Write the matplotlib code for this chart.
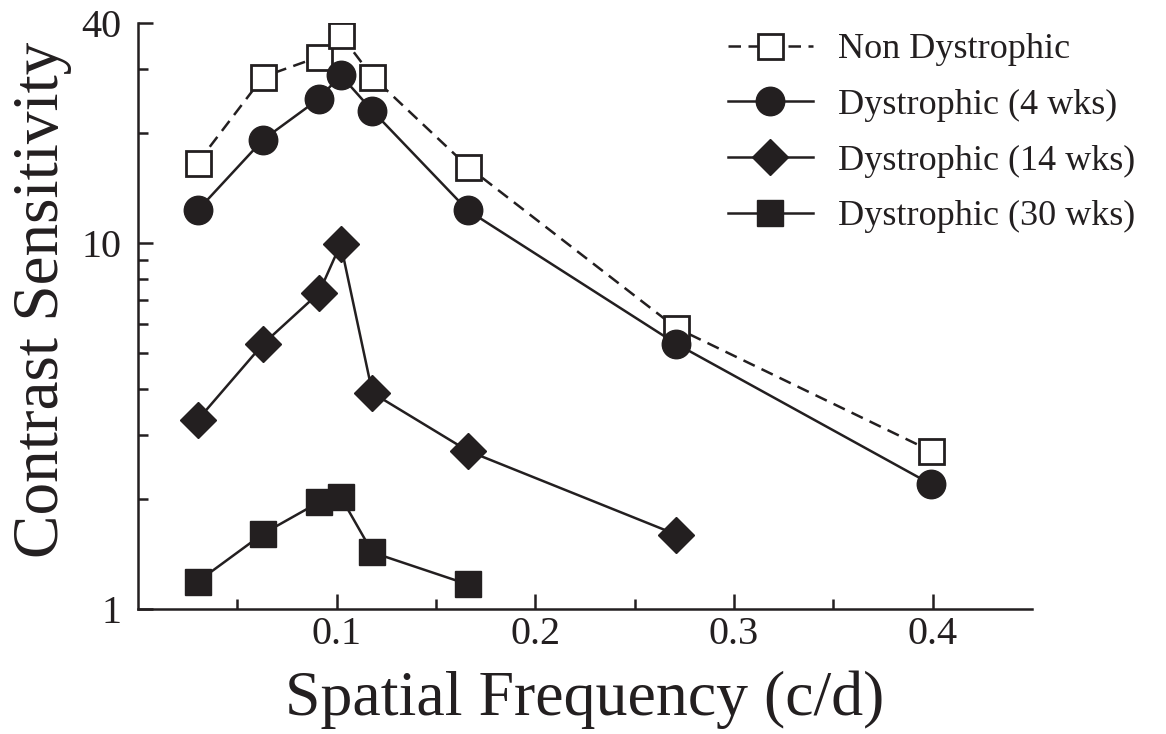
import matplotlib
matplotlib.use("Agg")
import matplotlib.pyplot as plt
from matplotlib.ticker import FixedLocator, NullFormatter

plt.rcParams['font.family'] = ['Liberation Serif', 'DejaVu Serif']

# spatial frequency (c/d)
freq = [0.03, 0.063, 0.091, 0.102, 0.118, 0.166, 0.271, 0.399]

# contrast sensitivity
non_dys = [16.6, 28.5, 32.3, 37.1, 28.5, 16.2, 5.87, 2.71]
dys_4 = [12.3, 19.2, 24.8, 28.8, 23.0, 12.3, 5.31, 2.20]
dys_14 = [3.29, 5.31, 7.31, 9.95, 3.90, 2.71, 1.60]
dys_30 = [1.19, 1.61, 1.96, 2.03, 1.43, 1.17]

labels = ["Non Dystrophic", "Dystrophic (4 wks)", "Dystrophic (14 wks)", "Dystrophic (30 wks)"]

ink = '#231f20'

fig = plt.figure(figsize=(11.66, 7.34), dpi=100)
ax = fig.add_axes([0.1184, 0.1699, 0.885 - 0.1184, 0.9688 - 0.1699])

lw = 1.8
ax.plot(freq, non_dys, color=ink, lw=lw, dashes=(5, 3), marker='s', ms=18,
        mfc='white', mec=ink, mew=2.0, label=labels[0])
ax.plot(freq, dys_4, color=ink, lw=lw, marker='o', ms=20.5, mfc=ink, mec=ink, label=labels[1])
ax.plot(freq[:7], dys_14, color=ink, lw=lw, marker='D', ms=18, mfc=ink, mec=ink, label=labels[2])
ax.plot(freq[:6], dys_30, color=ink, lw=lw, marker='s', ms=19, mfc=ink, mec=ink, label=labels[3])

ax.set_yscale('log')
ax.set_xlim(0, 0.45)
ax.set_ylim(1, 40)

ax.yaxis.set_major_locator(FixedLocator([1, 10, 40]))
ax.set_yticklabels(['1', '10', '40'])
ax.yaxis.set_minor_locator(FixedLocator([2, 3, 4, 5, 6, 7, 8, 9, 20, 30]))
ax.yaxis.set_minor_formatter(NullFormatter())

ax.xaxis.set_major_locator(FixedLocator([0.1, 0.2, 0.3, 0.4]))
ax.set_xticklabels(['0.1', '0.2', '0.3', '0.4'])
ax.xaxis.set_minor_locator(FixedLocator([0.05, 0.15, 0.25, 0.35]))

for s in ['top', 'right']:
    ax.spines[s].set_visible(False)
for s in ['left', 'bottom']:
    ax.spines[s].set_linewidth(1.8)
    ax.spines[s].set_color(ink)

ax.tick_params(which='major', direction='in', length=11, width=1.8, color=ink,
               labelsize=29, labelcolor=ink)
ax.tick_params(which='minor', direction='in', length=7, width=1.8, color=ink)
ax.tick_params(axis='x', which='major', pad=5)
ax.tick_params(axis='y', which='major', pad=12)

ax.set_xlabel("Spatial Frequency (c/d)", fontsize=46, color=ink)
ax.xaxis.set_label_coords(0.5, -0.105)
ax.set_ylabel("Contrast Sensitivity", fontsize=47, color=ink)
ax.yaxis.set_label_coords(-0.074, 0.528)

leg = fig.legend(loc='upper left', bbox_to_anchor=(728 / 1166, 0.955), frameon=False,
                 fontsize=26, handlelength=2.35, handletextpad=0.7, labelspacing=0.62,
                 borderpad=0, borderaxespad=0)
for t in leg.get_texts():
    t.set_color(ink)

fig.savefig("out.png", dpi=100)
